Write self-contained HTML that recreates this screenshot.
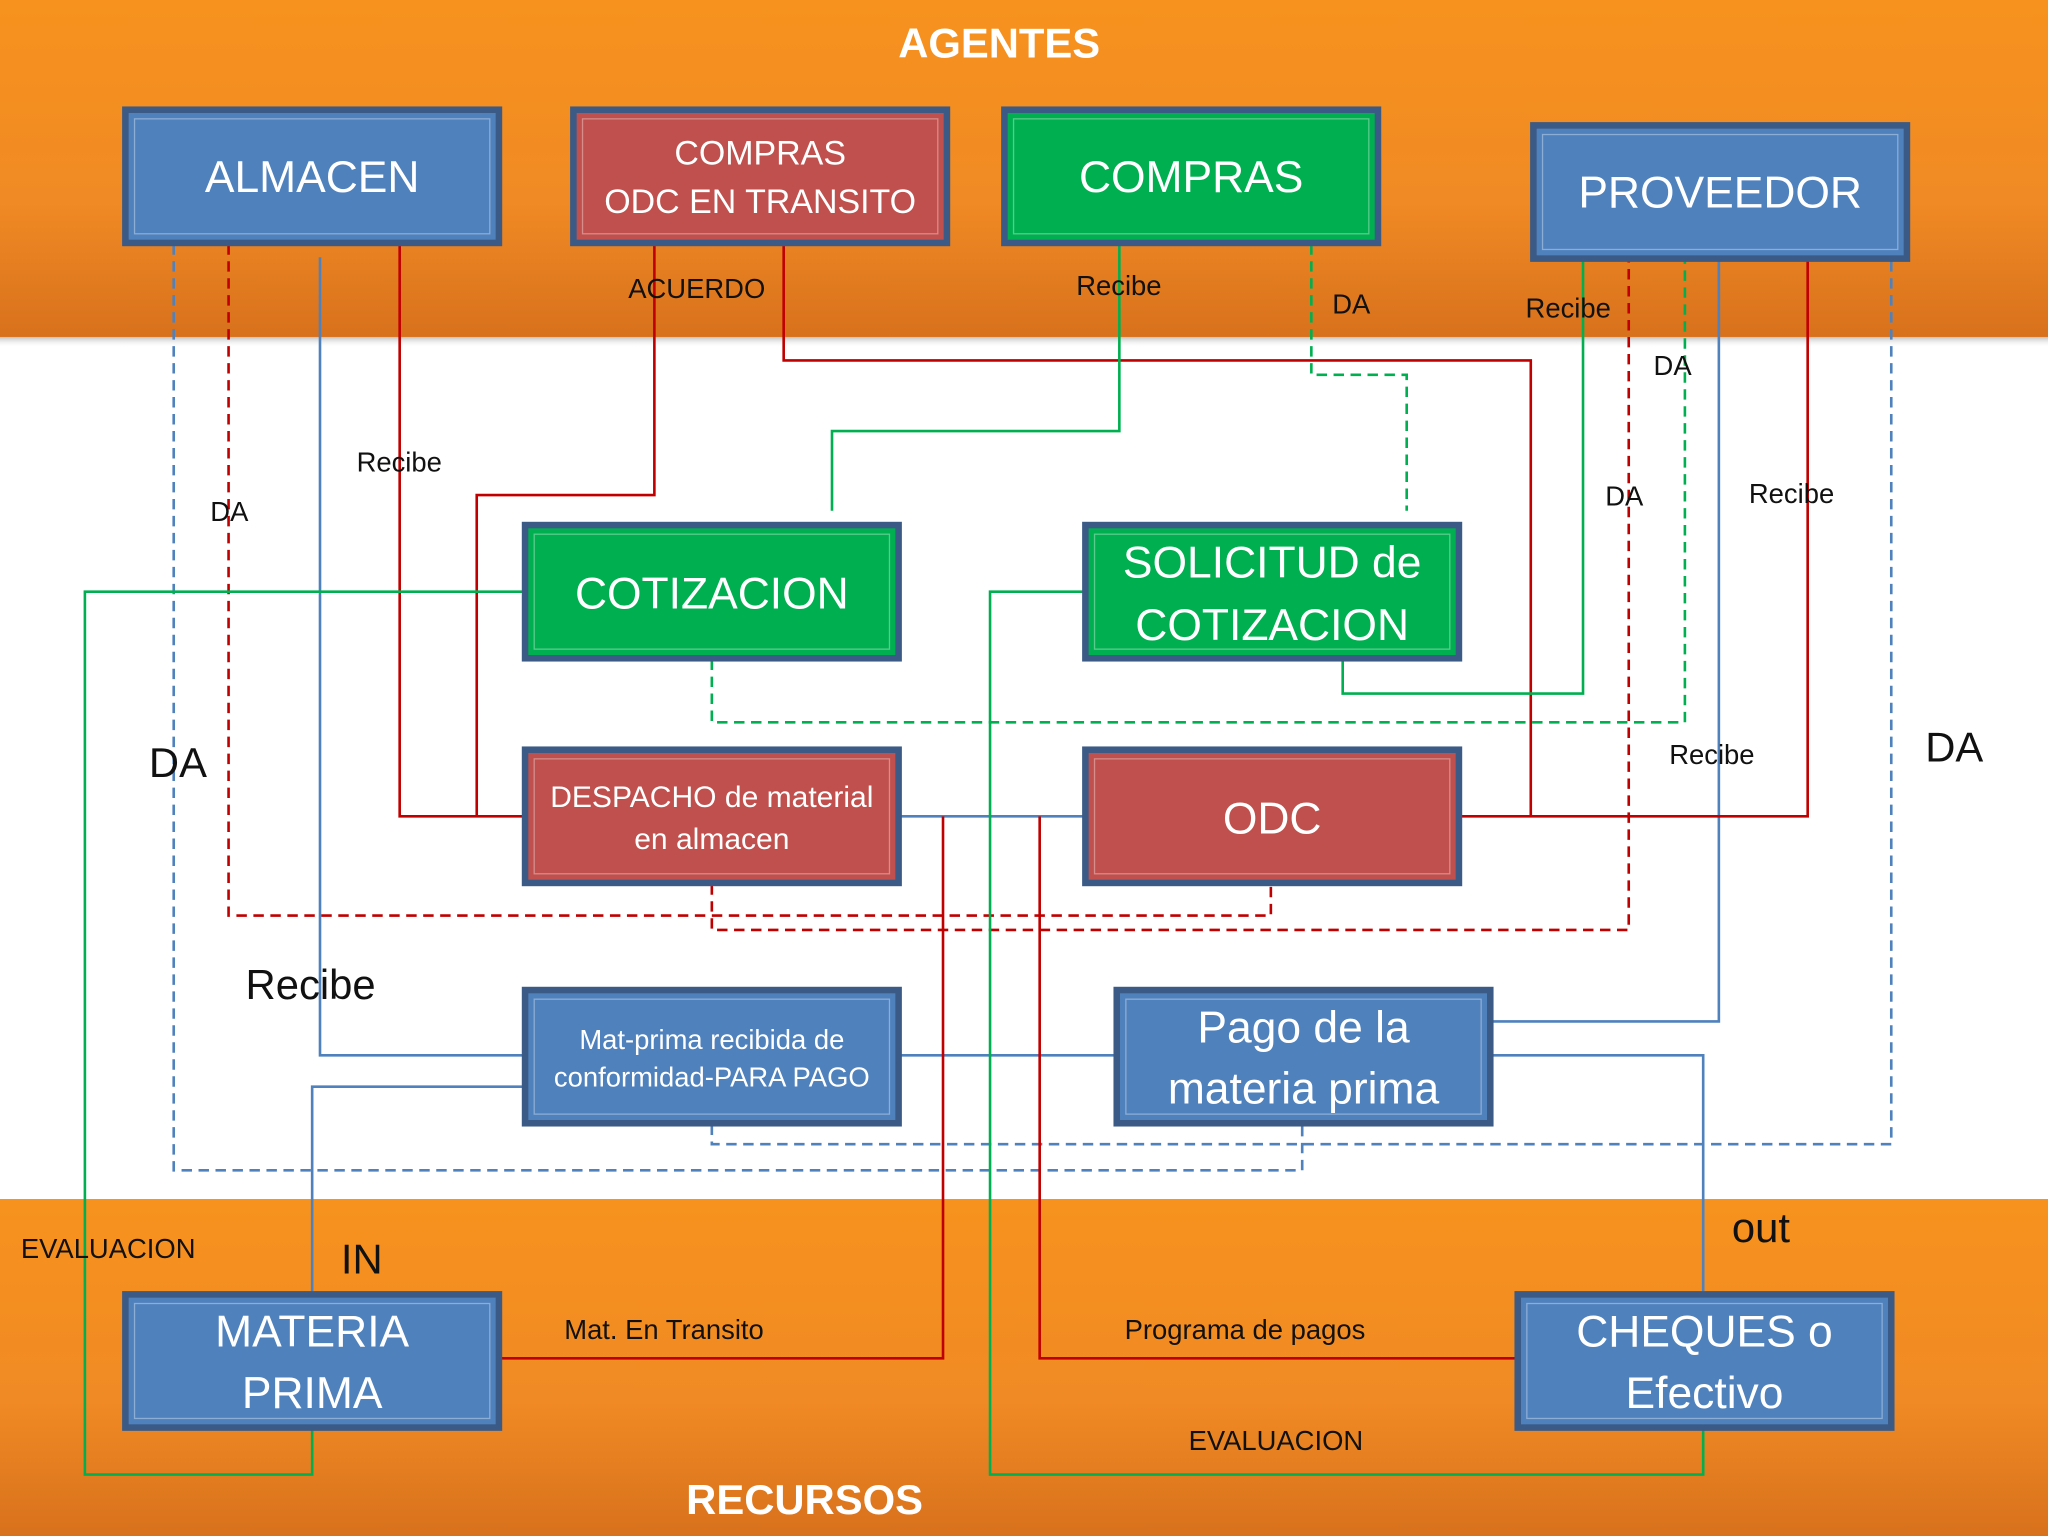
<!DOCTYPE html>
<html><head><meta charset="utf-8"><style>
html,body{margin:0;padding:0;background:#fff;}
svg{display:block;}
text{font-family:"Liberation Sans","DejaVu Sans",sans-serif;}
</style></head><body>
<svg width="2048" height="1536" viewBox="0 0 1568 1176" xmlns="http://www.w3.org/2000/svg">
<defs>
<linearGradient id="og" x1="0" y1="0" x2="0" y2="1"><stop offset="0" stop-color="#F7921E"/><stop offset="0.6" stop-color="#F08A24"/><stop offset="1" stop-color="#D8711C"/></linearGradient>
<linearGradient id="sh" x1="0" y1="0" x2="0" y2="1"><stop offset="0" stop-color="#999" stop-opacity="0.6"/><stop offset="1" stop-color="#fff" stop-opacity="0"/></linearGradient>
</defs>
<rect width="1568" height="1176" fill="#fff"/>
<rect x="0" y="0" width="1568" height="258" fill="url(#og)"/>
<rect x="0" y="258" width="1568" height="8" fill="url(#sh)"/>
<rect x="0" y="918" width="1568" height="258" fill="url(#og)"/>
<text x="765" y="44" font-size="32" font-weight="bold" fill="#fff" text-anchor="middle">AGENTES</text>
<text x="616" y="1159" font-size="32" font-weight="bold" fill="#fff" text-anchor="middle">RECURSOS</text>

<g fill="none" stroke-width="2">
<!-- blue dashed -->
<g stroke="#4F81BD" stroke-dasharray="8,5">
<polyline points="133,187 133,896 997,896 997,861"/>
<polyline points="545,861 545,876 1448,876 1448,197 1396,197"/>
</g>
<!-- blue solid -->
<g stroke="#4F81BD">
<polyline points="245,197 245,808 401,808"/>
<polyline points="401,832 239,832 239,990"/>
<polyline points="689,808 854,808"/>
<polyline points="1142,782 1316,782 1316,197"/>
<polyline points="1142,808 1304,808 1304,990"/>
<polyline points="689,625 830,625"/>
</g>
<!-- red solid -->
<g stroke="#C00000">
<polyline points="306,187 306,625 401,625"/>
<polyline points="501,187 501,379 365,379 365,625"/>
<polyline points="600,187 600,276 1172,276 1172,625"/>
<polyline points="1118,625 1384,625 1384,199"/>
<polyline points="722,625 722,1040 383,1040"/>
<polyline points="796,625 796,1040 1161,1040"/>
</g>
<!-- red dashed -->
<g stroke="#C00000" stroke-dasharray="8,5">
<polyline points="175,187 175,701 973,701 973,677"/>
<polyline points="545,677 545,712 1247,712 1247,199"/>
</g>
<!-- green solid -->
<g stroke="#00B050">
<polyline points="857,187 857,330 637,330 637,391"/>
<polyline points="401,453 65,453 65,1129 239,1129 239,1094"/>
<polyline points="830,453 758,453 758,1129 1304,1129 1304,1094"/>
<polyline points="1028,505 1028,531 1212,531 1212,183"/>
</g>
<!-- green dashed -->
<g stroke="#00B050" stroke-dasharray="8,5">
<polyline points="1004,187 1004,287 1077,287 1077,391"/>
<polyline points="545,505 545,553 1290,553 1290,199"/>
</g>
</g>

<!-- boxes -->
<g stroke="#3B5A85" stroke-width="5">
<rect x="96" y="84" width="286" height="102" fill="#4F81BD"/>
<rect x="439" y="84" width="286" height="102" fill="#C0504D"/>
<rect x="769" y="84" width="286" height="102" fill="#00B050"/>
<rect x="1174" y="96" width="286" height="102" fill="#4F81BD"/>
<rect x="402" y="402" width="286" height="102" fill="#00B050"/>
<rect x="831" y="402" width="286" height="102" fill="#00B050"/>
<rect x="402" y="574" width="286" height="102" fill="#C0504D"/>
<rect x="831" y="574" width="286" height="102" fill="#C0504D"/>
<rect x="402" y="758" width="286" height="102" fill="#4F81BD"/>
<rect x="855" y="758" width="286" height="102" fill="#4F81BD"/>
<rect x="96" y="991" width="286" height="102" fill="#4F81BD"/>
<rect x="1162" y="991" width="286" height="102" fill="#4F81BD"/>
</g>
<g stroke="#fff" stroke-opacity="0.35" stroke-width="1" fill="none">
<rect x="103" y="91" width="272" height="88"/>
<rect x="446" y="91" width="272" height="88"/>
<rect x="776" y="91" width="272" height="88"/>
<rect x="1181" y="103" width="272" height="88"/>
<rect x="409" y="409" width="272" height="88"/>
<rect x="838" y="409" width="272" height="88"/>
<rect x="409" y="581" width="272" height="88"/>
<rect x="838" y="581" width="272" height="88"/>
<rect x="409" y="765" width="272" height="88"/>
<rect x="862" y="765" width="272" height="88"/>
<rect x="103" y="998" width="272" height="88"/>
<rect x="1169" y="998" width="272" height="88"/>
</g>

<g fill="#fff" text-anchor="middle">
<text x="239" y="147" font-size="34">ALMACEN</text>
<text x="582" y="126" font-size="26">COMPRAS</text>
<text x="582" y="163" font-size="26">ODC EN TRANSITO</text>
<text x="912" y="147" font-size="34">COMPRAS</text>
<text x="1317" y="159" font-size="34">PROVEEDOR</text>
<text x="545" y="466" font-size="34">COTIZACION</text>
<text x="974" y="442" font-size="34">SOLICITUD de</text>
<text x="974" y="490" font-size="34">COTIZACION</text>
<text x="545" y="618" font-size="23">DESPACHO de material</text>
<text x="545" y="650" font-size="23">en almacen</text>
<text x="974" y="638" font-size="34">ODC</text>
<text x="545" y="803" font-size="21">Mat-prima recibida de</text>
<text x="545" y="832" font-size="21">conformidad-PARA PAGO</text>
<text x="998" y="798" font-size="34">Pago de la</text>
<text x="998" y="845" font-size="34">materia prima</text>
<text x="239" y="1031" font-size="34">MATERIA</text>
<text x="239" y="1078" font-size="34">PRIMA</text>
<text x="1305" y="1031" font-size="34">CHEQUES o</text>
<text x="1305" y="1078" font-size="34">Efectivo</text>
</g>

<g fill="#111" font-size="21">
<text x="481" y="228">ACUERDO</text>
<text x="824" y="226">Recibe</text>
<text x="1020" y="240">DA</text>
<text x="1168" y="243">Recibe</text>
<text x="1266" y="287">DA</text>
<text x="273" y="361">Recibe</text>
<text x="161" y="399">DA</text>
<text x="1229" y="387">DA</text>
<text x="1339" y="385">Recibe</text>
<text x="1278" y="585">Recibe</text>
<text x="16" y="963">EVALUACION</text>
<text x="432" y="1025">Mat. En Transito</text>
<text x="861" y="1025">Programa de pagos</text>
<text x="910" y="1110">EVALUACION</text>
<text x="114" y="595" font-size="32">DA</text>
<text x="1474" y="583" font-size="32">DA</text>
<text x="188" y="765" font-size="32">Recibe</text>
<text x="261" y="975" font-size="32">IN</text>
<text x="1326" y="951" font-size="32">out</text>
</g>
</svg>
</body></html>
